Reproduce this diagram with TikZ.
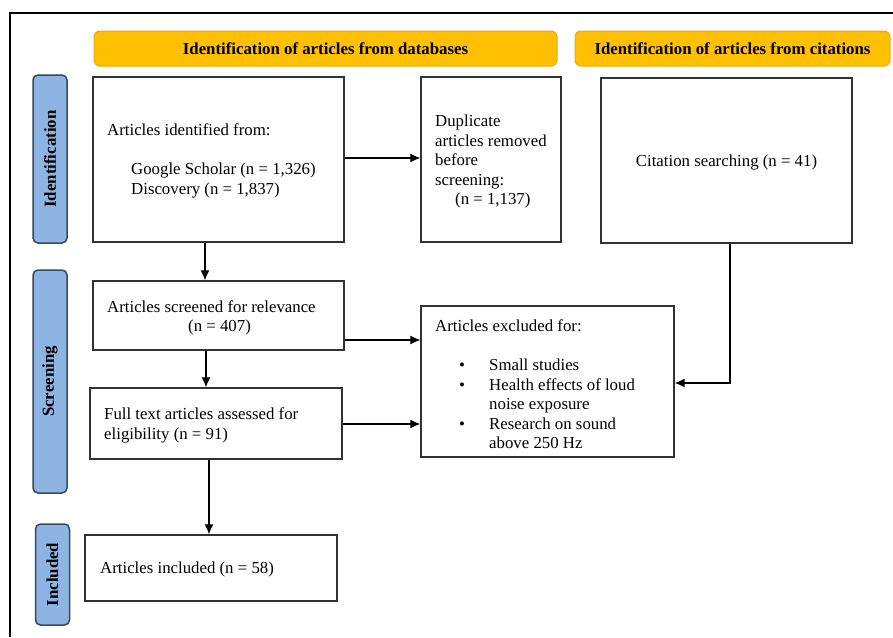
\documentclass[tikz,border=0pt]{standalone}
\usepackage{fontspec}
\setmainfont{Liberation Serif}
\usetikzlibrary{arrows.meta}
\definecolor{hdrfill}{RGB}{255,192,0}
\definecolor{hdrdraw}{RGB}{236,168,20}
\definecolor{sidefill}{RGB}{141,180,226}
\definecolor{sidedraw}{RGB}{60,70,95}
\definecolor{boxdraw}{RGB}{50,50,50}
\begin{document}
\begin{tikzpicture}[x=1pt,y=-1pt,
  every node/.style={font=\fontsize{16.8}{19.5}\selectfont},
  box/.style={draw=boxdraw, line width=1.4pt, fill=white, inner sep=0},
  hdr/.style={draw=hdrdraw, line width=1pt, fill=hdrfill, rounded corners=6pt, inner sep=0, font=\fontsize{16.8}{19.5}\selectfont\bfseries},
  side/.style={draw=sidedraw, line width=1.5pt, fill=sidefill, rounded corners=5pt, inner sep=0, rotate=90, minimum height=34pt, font=\fontsize{16.8}{19.5}\selectfont\bfseries},
  txt/.style={inner sep=0, align=left, anchor=west},
  arr/.style={-{Latex[length=10pt,width=9pt]}, line width=1.3pt}]
\useasboundingbox (0,0) rectangle (893,637);
\fill[white] (0,0) rectangle (893,637);
\draw[line width=1.5pt] (10,637) -- (10,13) -- (893,13);
% headers
\node[hdr, minimum width=463pt, minimum height=35pt] (H1) at (325.5,48.5) {Identification of articles from databases};
\node[hdr, minimum width=315pt, minimum height=35pt] (H2) at (732.5,48.5) {Identification of articles from citations};
% side labels
\node[side, minimum width=168pt] (S1) at (50,159) {Identification};
\node[side, minimum width=223pt] (S2) at (50,381.5) {Screening};
\node[side, minimum width=101pt] (S3) at (52.5,574.5) {Included};
% boxes
\node[box, minimum width=251pt, minimum height=165pt] (A) at (218.5,159.5) {};
\node[box, minimum width=140pt, minimum height=165pt] (B) at (491,159.5) {};
\node[box, minimum width=251pt, minimum height=165pt] (C) at (726.5,160.5) {};
\node[box, minimum width=251pt, minimum height=69pt] (D) at (218.5,315.5) {};
\node[box, minimum width=252pt, minimum height=71pt] (E) at (216,423.5) {};
\node[box, minimum width=253pt, minimum height=151pt] (F) at (547.5,381.5) {};
\node[box, minimum width=252pt, minimum height=66pt] (G) at (211,568) {};
% texts
\node[txt] (tA) at (107,161) {Articles identified from:\\[19.5pt]\hspace*{24pt}Google Scholar (n = 1,326)\\\hspace*{24pt}Discovery (n = 1,837)};
\node[txt] (tB) at (435,161.5) {Duplicate\\articles removed\\before\\screening:\\\hspace*{20pt}(n = 1,137)};
\node[inner sep=0] (tC) at ([yshift=-1.5pt]C.center) {Citation searching (n = 41)};
\node[txt] (tD) at (107,318) {Articles screened for relevance\\\hspace*{81pt}(n = 407)};
\node[txt] (tE) at (104,425.5) {Full text articles assessed for\\eligibility (n = 91)};
\node[txt] (tF) at (435,384.5) {Articles excluded for:\\[19.5pt]
\hspace*{24pt}\makebox[30pt][l]{\textbullet}Small studies\\
\hspace*{24pt}\makebox[30pt][l]{\textbullet}Health effects of loud\\
\hspace*{54pt}noise exposure\\
\hspace*{24pt}\makebox[30pt][l]{\textbullet}Research on sound\\
\hspace*{54pt}above 250 Hz};
\node[txt] (tG) at (100,569.5) {Articles included (n = 58)};
% connector helper coordinates
\coordinate (k1) at (205,158);
\coordinate (k2) at (206,340);
\coordinate (k3) at (209,424);
\coordinate (k4) at (730,383);
\draw[arr] (A.south -| k1) -- (D.north -| k1);
\draw[arr] (A.east |- k1) -- (B.west |- k1);
\draw[arr] (D.east |- k2) -- (F.west |- k2);
\draw[arr] (D.south -| k2) -- (E.north -| k2);
\draw[arr] (E.east |- k3) -- (F.west |- k3);
\draw[arr] (E.south -| k3) -- (G.north -| k3);
\draw[arr] (C.south -| k4) |- (F.east |- k4);
\end{tikzpicture}
\end{document}
